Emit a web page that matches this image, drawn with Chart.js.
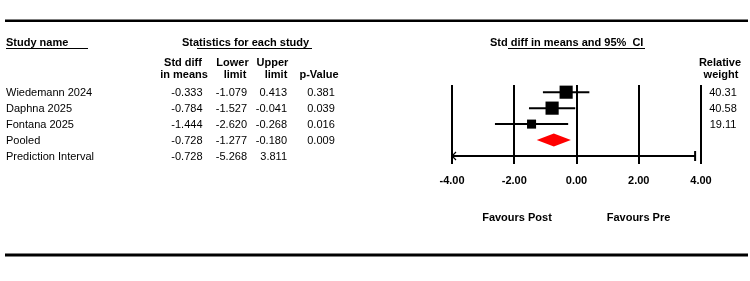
<!DOCTYPE html>
<html>
<head>
<meta charset="utf-8">
<script src="https://cdn.jsdelivr.net/npm/chart.js@4.4.0/dist/chart.umd.min.js"></script>
<style>
  html, body { margin: 0; padding: 0; background: #fff; }
</style>
</head>
<body>
<canvas id="forestChart" width="750" height="281"></canvas>
<script>
// study rows
var studyNames = ['Wiedemann 2024', 'Daphna 2025', 'Fontana 2025'];
var stdDiff = [-0.333, -0.784, -1.444];
var lowerLimit = [-1.079, -1.527, -2.620];
var upperLimit = [0.413, -0.041, -0.268];
var pValues = ['0.381', '0.039', '0.016'];
var relWeight = [40.31, 40.58, 19.11];

// pooled + prediction interval
var pooledRow = ['Pooled', -0.728, -1.277, -0.180, '0.009'];
var predRow = ['Prediction Interval', -0.728, -5.268, 3.811];

var xTicks = [-4, -2, 0, 2, 4];

var FONT = '"Liberation Sans", Arial, sans-serif';

var datasets = [];

// squares
datasets.push({
  type: 'scatter',
  order: 0,
  data: stdDiff.map(function(v, i) { return {x: v, y: i}; }),
  pointStyle: 'rect',
  pointRadius: relWeight.map(function(w) { return 9.3 * Math.sqrt(w / 40.5); }),
  pointHoverRadius: relWeight.map(function(w) { return 9.3 * Math.sqrt(w / 40.5); }),
  backgroundColor: '#000',
  borderWidth: 0
});

// CI whiskers
for (var i = 0; i < studyNames.length; i++) {
  datasets.push({
    type: 'line',
    order: 1,
    data: [{x: lowerLimit[i], y: i}, {x: upperLimit[i], y: i}],
    borderColor: '#000',
    borderWidth: 2,
    pointRadius: 0
  });
}

// prediction interval line
datasets.push({
  type: 'line',
  order: 1,
  data: [{x: predRow[2], y: 4}, {x: predRow[3], y: 4}],
  borderColor: '#000',
  borderWidth: 2,
  pointRadius: 0
});

var txt = function(ctx, s, x, y, align, bold) {
  ctx.font = (bold ? 'bold ' : '') + '11px ' + FONT;
  ctx.textAlign = align;
  ctx.textBaseline = 'middle';
  ctx.fillStyle = '#000';
  ctx.fillText(s, x, y);
};

var hline = function(ctx, x1, x2, y, w) {
  ctx.beginPath();
  ctx.lineWidth = w;
  ctx.strokeStyle = '#000';
  ctx.moveTo(x1, y);
  ctx.lineTo(x2, y);
  ctx.stroke();
};

var forestExtras = {
  id: 'forestExtras',
  afterDatasetsDraw: function(chart) {
    var ctx = chart.ctx;
    var xs = chart.scales.x, ys = chart.scales.y;
    ctx.save();

    // pooled diamond
    var py = ys.getPixelForValue(3);
    var dh = 6.5;
    ctx.beginPath();
    ctx.moveTo(xs.getPixelForValue(pooledRow[2]), py);
    ctx.lineTo(xs.getPixelForValue(pooledRow[1]), py - dh);
    ctx.lineTo(xs.getPixelForValue(pooledRow[3]), py);
    ctx.lineTo(xs.getPixelForValue(pooledRow[1]), py + dh);
    ctx.closePath();
    ctx.fillStyle = '#ff0000';
    ctx.fill();

    // prediction interval: arrow on clipped side, cap on the other
    var ry = ys.getPixelForValue(4);
    var xl = xs.getPixelForValue(Math.max(predRow[2], xs.min));
    ctx.beginPath();
    ctx.lineWidth = 1.2;
    ctx.strokeStyle = '#000';
    ctx.moveTo(xl + 4, ry - 4);
    ctx.lineTo(xl, ry);
    ctx.lineTo(xl + 4, ry + 4);
    ctx.stroke();
    var xr = xs.getPixelForValue(predRow[3]);
    ctx.beginPath();
    ctx.lineWidth = 2;
    ctx.moveTo(xr, ry - 5);
    ctx.lineTo(xr, ry + 5);
    ctx.stroke();
    ctx.restore();
  },
  afterDraw: function(chart) {
    var ctx = chart.ctx;
    var ys = chart.scales.y;
    ctx.save();

    // top and bottom rules
    hline(ctx, 5, 748, 20.7, 2.5);
    hline(ctx, 5, 748, 255, 3);

    // headers
    txt(ctx, 'Study name', 6, 43, 'left', true);
    hline(ctx, 6, 88, 48.5, 1);
    txt(ctx, 'Statistics for each study', 182, 43, 'left', true);
    hline(ctx, 197, 312, 48.5, 1);
    txt(ctx, 'Std diff in means and 95%  CI', 490, 43, 'left', true);
    hline(ctx, 508, 645, 48.5, 1);

    txt(ctx, 'Std diff', 183, 63, 'center', true);
    txt(ctx, 'in means', 184, 74.5, 'center', true);
    txt(ctx, 'Lower', 232.5, 63, 'center', true);
    txt(ctx, 'limit', 235, 74.5, 'center', true);
    txt(ctx, 'Upper', 272.5, 63, 'center', true);
    txt(ctx, 'limit', 276, 74.5, 'center', true);
    txt(ctx, 'p-Value', 319, 74.5, 'center', true);
    txt(ctx, 'Relative', 720, 63, 'center', true);
    txt(ctx, 'weight', 721, 74.5, 'center', true);

    // study rows
    for (var i = 0; i < studyNames.length; i++) {
      var y = ys.getPixelForValue(i) + 1.2;
      txt(ctx, studyNames[i], 6, y, 'left');
      txt(ctx, stdDiff[i].toFixed(3), 202.5, y, 'right');
      txt(ctx, lowerLimit[i].toFixed(3), 247, y, 'right');
      txt(ctx, upperLimit[i].toFixed(3), 287, y, 'right');
      txt(ctx, pValues[i], 321, y, 'center');
      txt(ctx, relWeight[i].toFixed(2), 723, y, 'center');
    }
    var y3 = ys.getPixelForValue(3) + 1.2;
    txt(ctx, pooledRow[0], 6, y3, 'left');
    txt(ctx, pooledRow[1].toFixed(3), 202.5, y3, 'right');
    txt(ctx, pooledRow[2].toFixed(3), 247, y3, 'right');
    txt(ctx, pooledRow[3].toFixed(3), 287, y3, 'right');
    txt(ctx, pooledRow[4], 321, y3, 'center');
    var y4 = ys.getPixelForValue(4) + 1.2;
    txt(ctx, predRow[0], 6, y4, 'left');
    txt(ctx, predRow[1].toFixed(3), 202.5, y4, 'right');
    txt(ctx, predRow[2].toFixed(3), 247, y4, 'right');
    txt(ctx, predRow[3].toFixed(3), 287, y4, 'right');

    // favours labels
    txt(ctx, 'Favours Post', 517, 218, 'center', true);
    txt(ctx, 'Favours Pre', 638.5, 218, 'center', true);
    ctx.restore();
  }
};

new Chart(document.getElementById('forestChart').getContext('2d'), {
  type: 'scatter',
  data: { datasets: datasets },
  options: {
    responsive: false,
    animation: false,
    devicePixelRatio: 1,
    layout: { padding: { left: 452, right: 49, top: 85, bottom: 97 } },
    plugins: { legend: { display: false }, tooltip: { enabled: false } },
    scales: {
      x: {
        type: 'linear',
        min: xTicks[0],
        max: xTicks[xTicks.length - 1],
        afterBuildTicks: function(scale) {
          scale.ticks = xTicks.map(function(v) { return {value: v}; });
        },
        afterFit: function(scale) { scale.height = 20; },
        ticks: {
          padding: 10,
          color: '#000',
          font: { family: FONT, size: 11, weight: 'bold' },
          callback: function(v) { return Number(v).toFixed(2); }
        },
        grid: { color: '#000', lineWidth: 2, drawTicks: false },
        border: { display: false }
      },
      y: {
        type: 'linear',
        display: false,
        reverse: true,
        min: -0.45,
        max: 4.5
      }
    }
  },
  plugins: [forestExtras]
});
</script>
</body>
</html>
